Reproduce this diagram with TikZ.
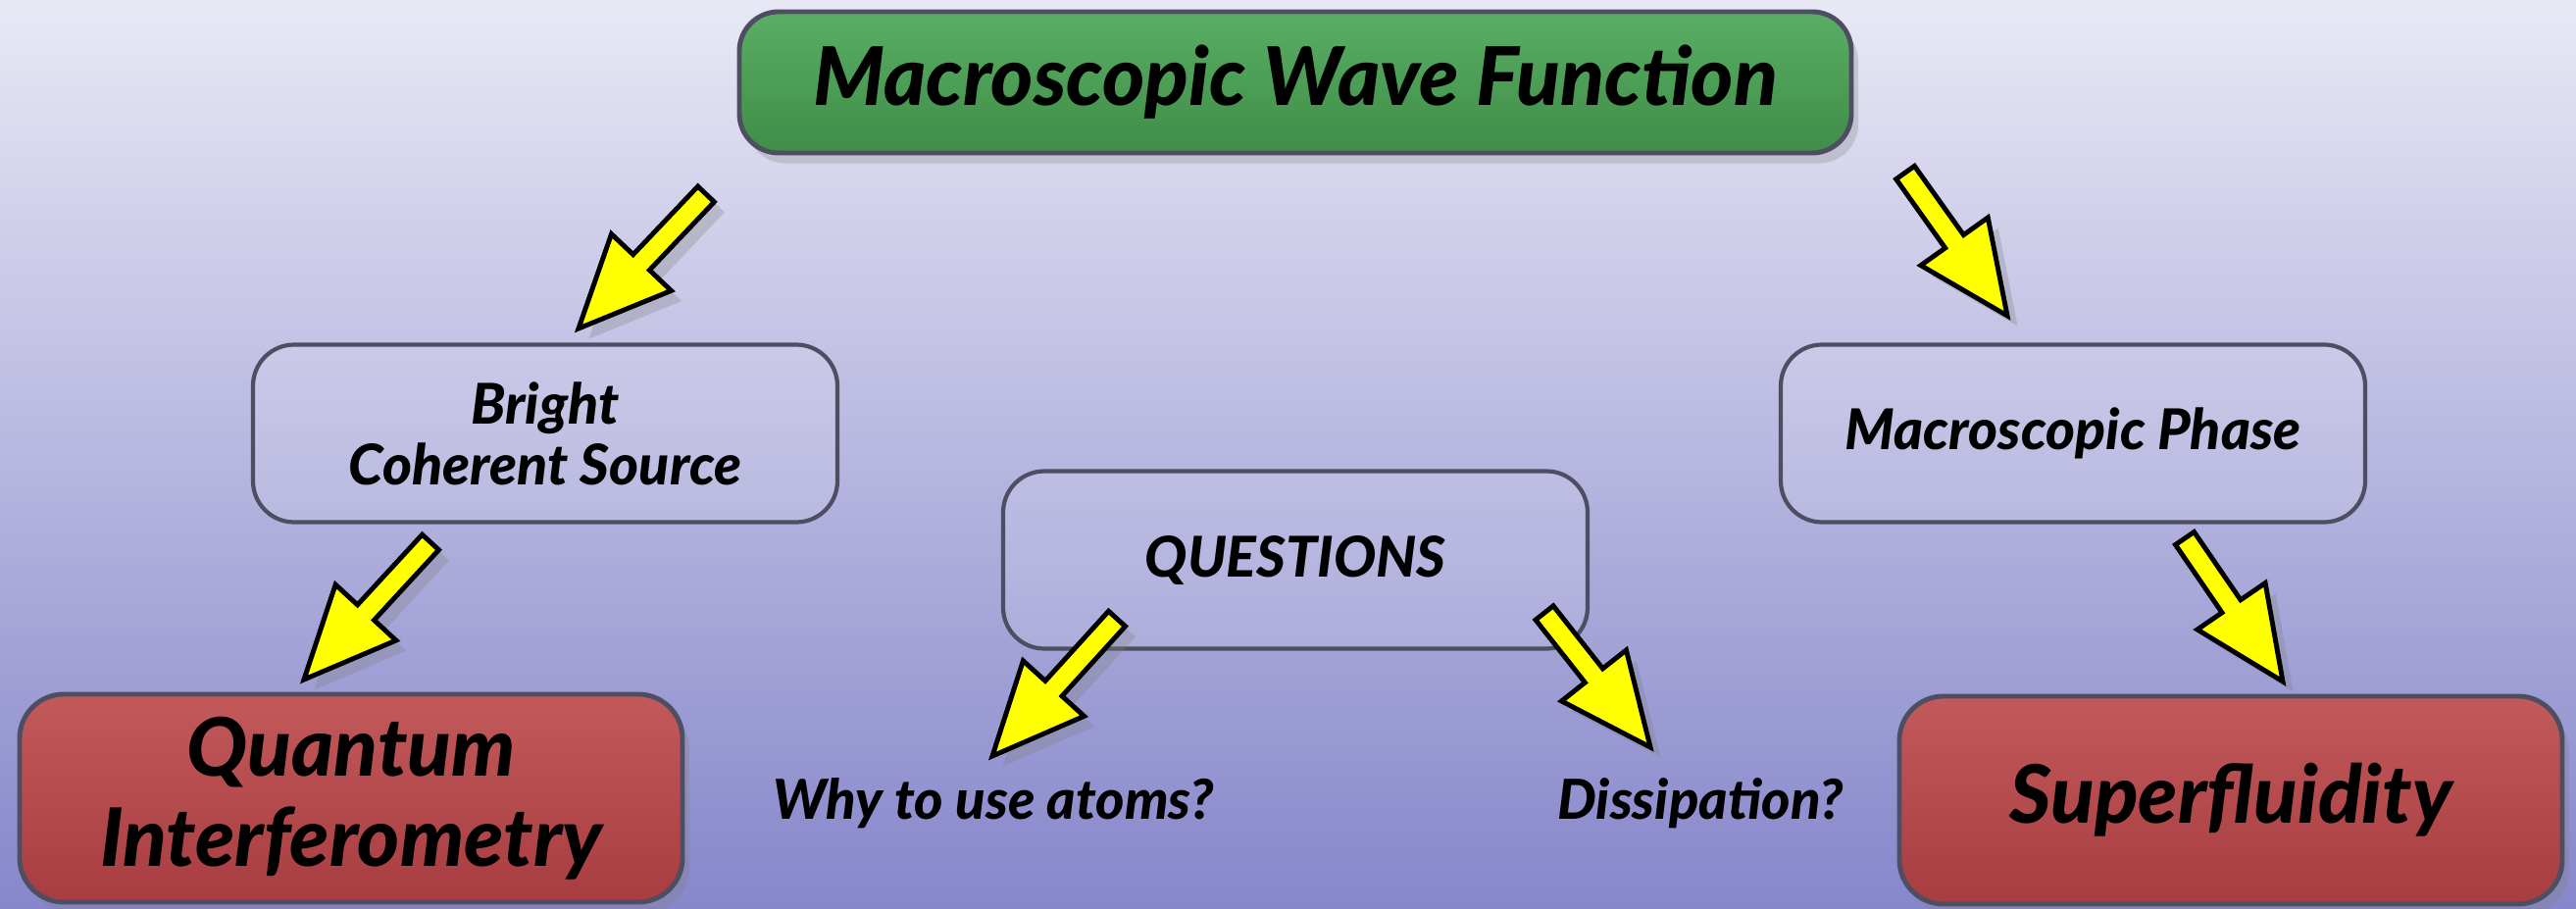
\documentclass[tikz,border=0pt]{standalone}
\usepackage{fontspec}
\setmainfont{Lato}[BoldFont=Lato Black, BoldItalicFont=Lato Black Italic]
\usetikzlibrary{calc, shadows, positioning}

\definecolor{bgtop}{HTML}{E9E8F5}
\definecolor{bgmid}{HTML}{B9B9E1}
\definecolor{bgbot}{HTML}{8686CB}
\definecolor{greentop}{HTML}{5AAE65}
\definecolor{greenbot}{HTML}{3F8D48}
\definecolor{redtop}{HTML}{C2595B}
\definecolor{redbot}{HTML}{A73D40}
\definecolor{boxline}{HTML}{4E4E62}
\definecolor{arrowyellow}{HTML}{FFFF00}

% yellow block arrow from #1 to #2
\newcommand{\yarrow}[2]{%
  \coordinate (hb) at ($(#2)!0.93cm!(#1)$);
  \filldraw [yarrowstyle]
    ($(#1)!0.115cm!90:(#2)$) -- ($(hb)!0.115cm!90:(#2)$) -- ($(hb)!0.42cm!90:(#2)$)
    -- (#2) -- ($(hb)!0.42cm!-90:(#2)$) -- ($(hb)!0.115cm!-90:(#2)$)
    -- ($(#1)!0.115cm!-90:(#2)$) -- cycle;
}

\begin{document}
\begin{tikzpicture}[
  every node/.style={font=\bfseries\itshape, align=center, inner sep=0pt},
  softshadow/.style={drop shadow={opacity=0.28, shadow xshift=2pt, shadow yshift=-3pt}},
  lightbox/.style={draw=boxline, line width=1.2pt, rounded corners=0.42cm,
    fill=white, fill opacity=0.12, text opacity=1,
    minimum width=5.96cm, minimum height=1.81cm,
    font=\bfseries\itshape\fontsize{16.3}{17.6}\selectfont},
  topbox/.style={draw=boxline, line width=1.4pt, rounded corners=0.4cm,
    top color=greentop, bottom color=greenbot, softshadow,
    minimum width=11.34cm, minimum height=1.44cm,
    font=\bfseries\itshape\fontsize{23.5}{27}\selectfont},
  endbox/.style={draw=boxline, line width=1.4pt, rounded corners=0.45cm,
    top color=redtop, bottom color=redbot, softshadow,
    minimum width=6.76cm, minimum height=2.12cm,
    font=\bfseries\itshape\fontsize{23.4}{26}\selectfont},
  question/.style={font=\bfseries\itshape\fontsize{16}{19}\selectfont},
  yarrowstyle/.style={fill=arrowyellow, draw=black, line width=1.4pt, line join=miter,
    drop shadow={opacity=0.3, shadow xshift=3pt, shadow yshift=-3pt}}
]
% background
\shade [top color=bgtop, middle color=bgmid, bottom color=bgbot] (0,0) rectangle (26.27,-9.27);
\useasboundingbox (0,0) rectangle (26.27,-9.27);

% boxes
\node [topbox]   (wave)     at (13.21,-0.84) {Macroscopic Wave Function};
\node [lightbox] (source)   at (5.56,-4.42)  {Bright\\Coherent Source};
\node [lightbox] (questions) at (13.21,-5.71) {QUESTIONS};
\node [lightbox] (phase)    at (21.14,-4.42) {Macroscopic Phase};
\node [endbox]   (interf)   at (3.58,-8.14)  {Quantum\\Interferometry};
\node [endbox]   (superfl)  at (22.75,-8.16) {Superfluidity};
\node [question] (why)      at (10.13,-8.19) {Why to use atoms?};
\node [question] (dissip)   at (17.34,-8.19) {Dissipation?};

% arrow ends
\coordinate (w1) at (7.20,-1.98);  \coordinate (s1) at (5.90,-3.35);
\coordinate (w2) at (19.43,-1.76); \coordinate (p1) at (20.47,-3.22);
\coordinate (s2) at (4.39,-5.53);  \coordinate (i1) at (3.10,-6.93);
\coordinate (p2) at (22.28,-5.49); \coordinate (f1) at (23.28,-6.95);
\coordinate (q1) at (11.39,-6.31); \coordinate (y1) at (10.12,-7.71);
\coordinate (q2) at (15.75,-6.25); \coordinate (d1) at (16.83,-7.62);

\yarrow{w1}{s1}
\yarrow{w2}{p1}
\yarrow{s2}{i1}
\yarrow{p2}{f1}
\yarrow{q1}{y1}
\yarrow{q2}{d1}
\end{tikzpicture}
\end{document}
